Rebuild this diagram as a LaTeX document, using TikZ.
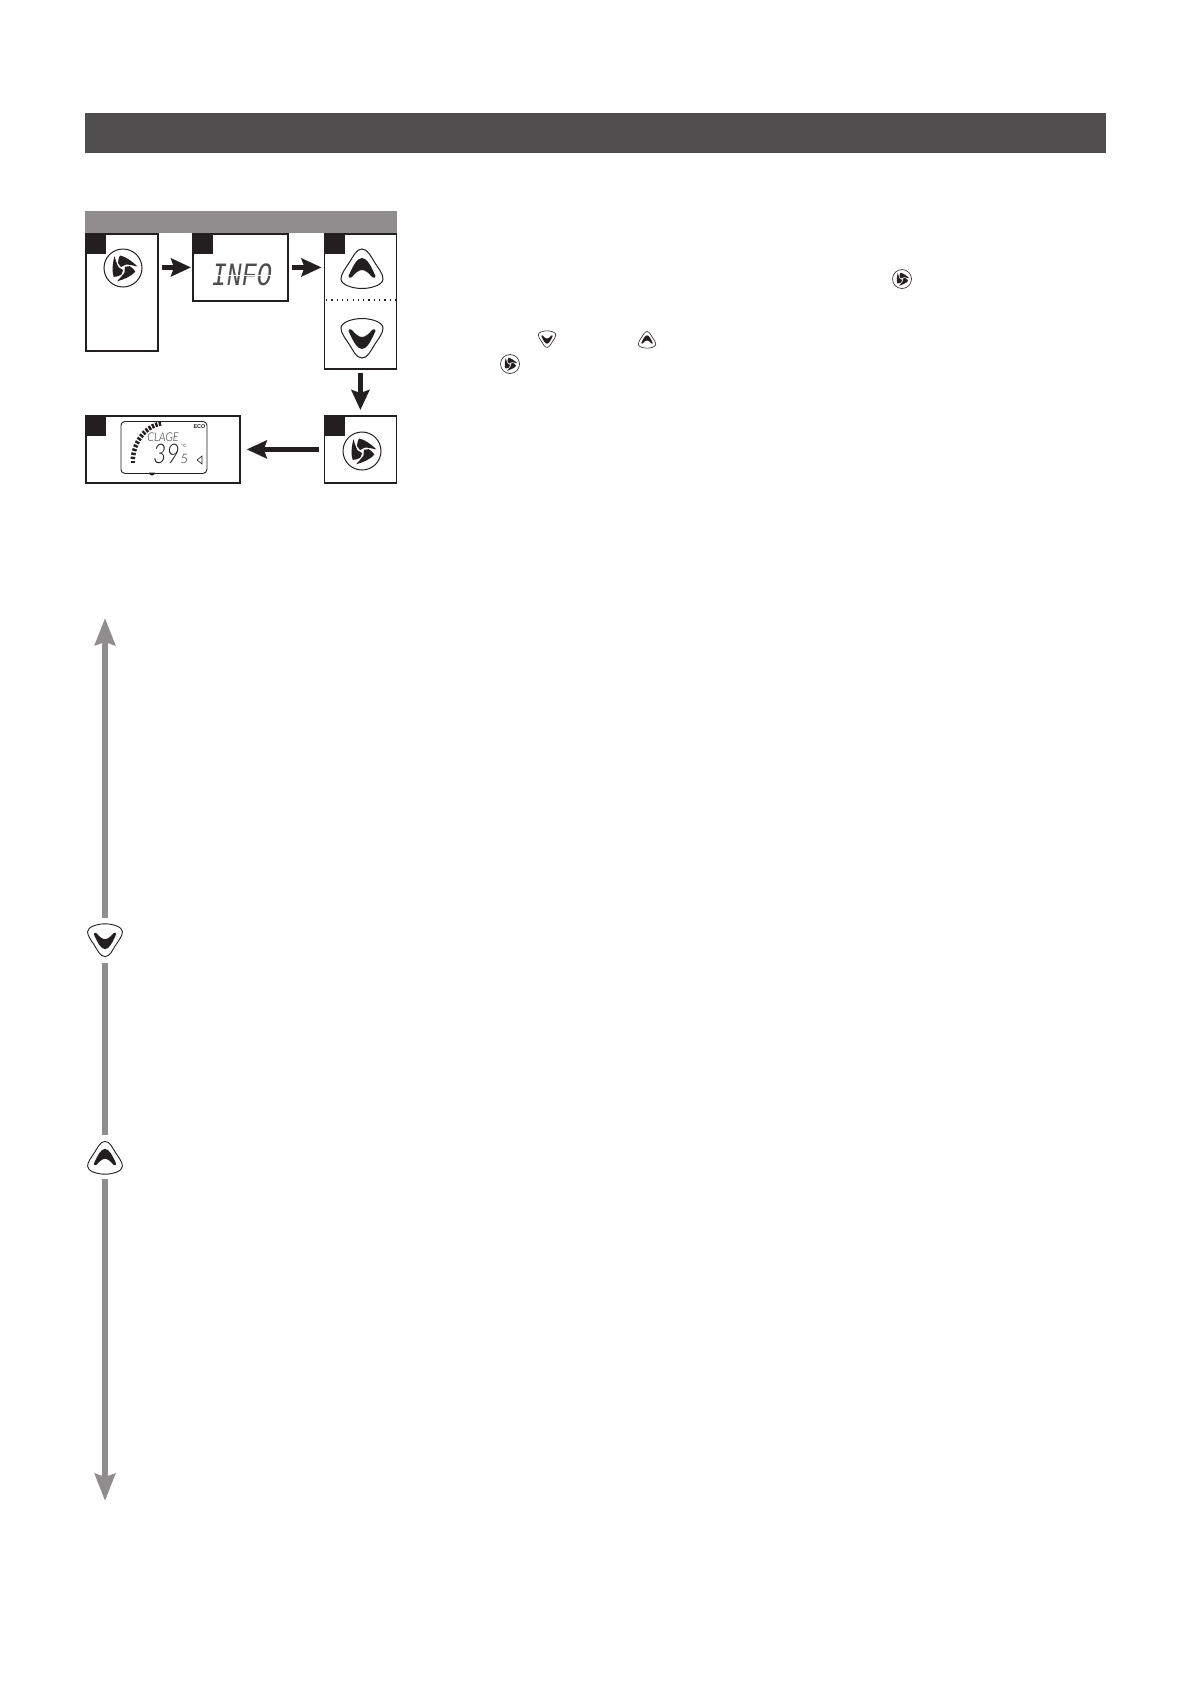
\documentclass[tikz,border=0pt]{standalone}
\usepackage{fontspec}
\setmainfont{Liberation Sans}
\newfontfamily\lcdmono{Liberation Mono}
\newfontfamily\lcdthin{Lato Light}
\usetikzlibrary{arrows.meta}
\definecolor{hdr}{HTML}{4F4D4E}
\definecolor{greybar}{HTML}{8F8D8D}
\definecolor{inkk}{HTML}{231F20}
\tikzset{
  x=1pt,y=-1pt,
  stepbox/.style={draw=inkk,line width=1.8pt,fill=white,inner sep=0pt,anchor=north west},
  tag/.style={fill=inkk,inner sep=0pt,minimum width=21pt,minimum height=21pt,anchor=north west},
  arr/.style={draw=inkk,line width=5pt,-{Stealth[length=20pt,width=18pt,inset=3pt]}},
  garr/.style={draw=greybar,line width=6pt,-{Stealth[length=27pt,width=20pt,inset=3pt]}},
  gline/.style={draw=greybar,line width=6pt},
  lcdtext/.style={inner sep=0pt,text=inkk},
  swirl/.pic={
    \draw[inkk,fill=white] (0,0) circle (19);
    \foreach \a in {0,120,240}{
      \fill[inkk,rotate=\a] (-3,-12.5) .. controls (3,-11.5) and (10,-6) .. (14.5,-1.5)
        .. controls (10,-2.5) and (6,-3.5) .. (3,-3.5)
        -- (-2,-1)
        -- (-5,-5)
        .. controls (-5,-8) and (-4,-11) .. cycle;
    }
  },
  chev/.pic={
    \draw[inkk,fill=white] (0,-20) .. controls (6,-20) and (9,-12) .. (13,-6)
      .. controls (17,0) and (21,5) .. (21,10)
      .. controls (21,16) and (9,19.5) .. (0,19.5)
      .. controls (-9,19.5) and (-21,16) .. (-21,10)
      .. controls (-21,5) and (-17,0) .. (-13,-6)
      .. controls (-9,-12) and (-6,-20) .. cycle;
    \fill[inkk] (0,-11) .. controls (5,-11) and (9,-3) .. (13.5,7)
      .. controls (14,9) and (11,9.5) .. (10,8)
      .. controls (7,4) and (3,1) .. (0,1)
      .. controls (-3,1) and (-7,4) .. (-10,8)
      .. controls (-11,9.5) and (-14,9) .. (-13.5,7)
      .. controls (-9,-3) and (-5,-11) .. cycle;
  },
}
\begin{document}
\begin{tikzpicture}
\useasboundingbox (0,0) rectangle (1191,1684);
% header and caption bands
\node[fill=hdr,inner sep=0pt,minimum width=1021pt,minimum height=40pt,anchor=north west] (header) at (85,113) {};
\node[fill=greybar,inner sep=0pt,minimum width=312pt,minimum height=22pt,anchor=north west] (band) at (85,211) {};
% step boxes
\node[stepbox,minimum width=72pt,minimum height=117pt] (b1) at (85,233) {};
\node[stepbox,minimum width=95pt,minimum height=67pt] (b2) at (192,233) {};
\node[stepbox,minimum width=72pt,minimum height=135pt] (b3) at (323.5,233) {};
\node[stepbox,minimum width=72pt,minimum height=67pt] (b4) at (323.5,415) {};
\node[stepbox,minimum width=154pt,minimum height=67pt] (b5) at (85,415) {};
% tags
\node[tag] (t1) at (85,233) {};
\node[tag] (t2) at (192,233) {};
\node[tag] (t3) at (323.5,233) {};
\node[tag] (t4) at (323.5,415) {};
\node[tag] (t5) at (85,415) {};
% connectors between boxes
\draw[arr,shorten <=3pt,shorten >=1pt] (b1.east |- b2.east) -- (b2.west);
\draw[arr,shorten <=3pt,shorten >=2pt] (b2.east) -- (b3.west |- b2.east);
\draw[arr,shorten <=3pt,shorten >=5pt] (b3.south) -- (b4.north);
\draw[arr,shorten <=5pt,shorten >=6pt] (b4.west) -- (b5.east);
% dotted divider
\coordinate (dl) at (326,300);
\coordinate (dr) at (395,300);
\draw[inkk,line width=1.2pt,dash pattern=on 1.2pt off 4.1pt] (dl) -- (dr);
% icons in boxes
\pic[line width=1pt] at (123,268) {swirl};
\pic[line width=1pt] at (362,269) {chev};
\pic[line width=1pt,yscale=-1] at (362,338) {chev};
\pic[line width=1pt] at (362,451) {swirl};
% INFO display
\node[lcdtext,font=\lcdmono\itshape\fontsize{25}{25}\selectfont,yscale=1.3,transform shape,text=inkk!80] (info) at (242,274.5) {INFO};
\coordinate (il) at (208,275);
\coordinate (ir) at (276,275);
\draw[white,line width=.7pt] (il) -- (ir);
% LCD panel
\node[draw=inkk,line width=.9pt,rounded corners=4pt,inner sep=0pt,minimum width=86pt,minimum height=52pt,anchor=north west] (lcd) at (120.5,421) {};
\foreach \t in {0,6,...,78}{
  \draw[inkk,line width=2.4pt] ({167-32*cos(\t)},{462-37*sin(\t)}) -- ({167-36.5*cos(\t)},{462-41.5*sin(\t)});
}
\node[lcdtext,font=\lcdthin\itshape\fontsize{12}{12}\selectfont,xscale=.9,transform shape] (clage) at (163,437.5) {CLAGE};
\node[lcdtext,font=\lcdthin\itshape\fontsize{27}{27}\selectfont,xscale=.85,transform shape,anchor=base east] (deg39) at (180,463) {39};
\node[lcdtext,font=\lcdthin\itshape\fontsize{13}{13}\selectfont,anchor=base west] (dec5) at (180.5,463) {5};
\node[lcdtext,font=\fontsize{4.5}{4.5}\selectfont] (degc) at (184,446) {°C};
\node[lcdtext,font=\bfseries\fontsize{5.5}{5.5}\selectfont] (eco) at (199.5,427) {ECO};
\draw[inkk,line width=.6pt] (197,460) -- (202,456) -- (202,464) -- cycle;
\fill[inkk] (149,472.5) arc[start angle=180,end angle=0,radius=3] -- cycle;
% inline icons
\pic[line width=.6pt,scale=.5] at (902,279) {swirl};
\pic[line width=.6pt,scale=.42,yscale=-1] at (547,339) {chev};
\pic[line width=.6pt,scale=.42] at (647,340) {chev};
\pic[line width=.6pt,scale=.5] at (510,364) {swirl};
% left scale
\coordinate (gtop) at (105,618);
\coordinate (gbot) at (105,1501);
\coordinate (gdn) at (105,940);
\coordinate (gup) at (105,1158);
\draw[garr,shorten <=22pt] (gdn) -- (gtop);
\draw[gline,shorten <=23pt,shorten >=23pt] (gdn) -- (gup);
\draw[garr,shorten <=21pt] (gup) -- (gbot);
\pic[line width=.9pt,scale=.83,yscale=-1] at (gdn) {chev};
\pic[line width=.9pt,scale=.83] at (gup) {chev};
\end{tikzpicture}
\end{document}
